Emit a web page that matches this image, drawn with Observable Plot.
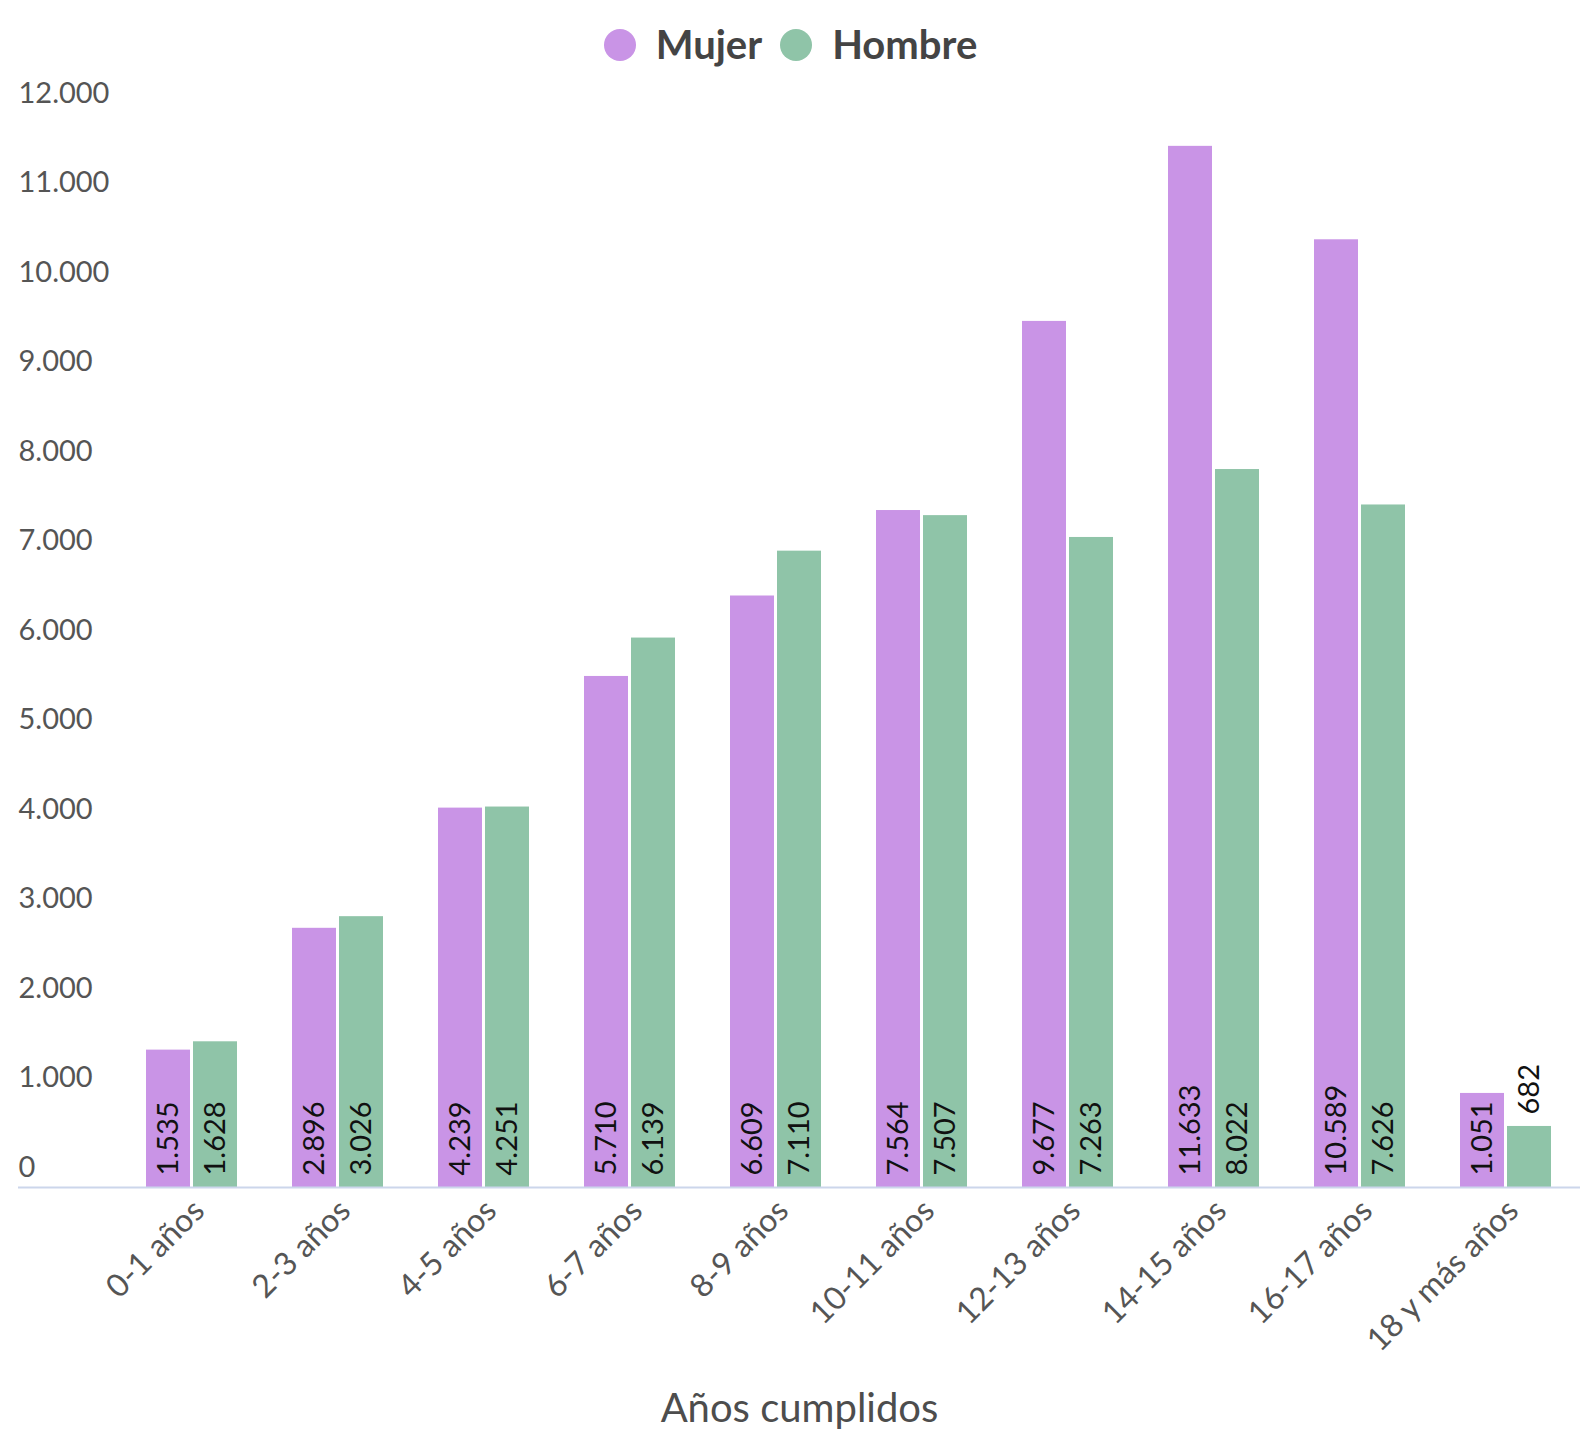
<!DOCTYPE html>
<html>
<head>
<meta charset="utf-8">
<script src="https://cdn.jsdelivr.net/npm/d3@7"></script>
<script src="https://cdn.jsdelivr.net/npm/@observablehq/plot@0.6"></script>
<style>
  html, body { margin: 0; padding: 0; background: #fff; }
  #wrap { position: relative; width: 1581px; height: 1431px; font-family: Lato, "Noto Sans", sans-serif; }
  #legend { position: absolute; left: 0; top: 0; width: 1581px; height: 90px; display: flex; justify-content: center; align-items: center; padding-left: 0px; box-sizing: border-box; }
  .item { display: flex; align-items: center; margin: 0 9px; }
  .dot { width: 32px; height: 32px; border-radius: 50%; margin-right: 20px; }
  .lab { font-weight: 700; font-size: 40px; color: #444; line-height: 1; position: relative; top: -1px; }
  #chart { position: absolute; left: 0; top: 70px; }
  #xtitle { position: absolute; left: 18px; width: 1563px; top: 1387px; text-align: center; font-size: 40px; line-height: 40px; color: #4d4d4d; }
</style>
</head>
<body>
<div id="wrap">
  <div id="legend"></div>
  <div id="chart"></div>
  <div id="xtitle">Años cumplidos</div>
</div>
<script>
const categorias = ["0-1 años", "2-3 años", "4-5 años", "6-7 años", "8-9 años", "10-11 años", "12-13 años", "14-15 años", "16-17 años", "18 y más años"];
const mujer = [1535, 2896, 4239, 5710, 6609, 7564, 9677, 11633, 10589, 1051];
const hombre = [1628, 3026, 4251, 6139, 7110, 7507, 7263, 8022, 7626, 682];
const series = ["Mujer", "Hombre"];
const colores = ["#c994e6", "#8fc4a8"];
const yTicks = [0, 1000, 2000, 3000, 4000, 5000, 6000, 7000, 8000, 9000, 10000, 11000, 12000];

const locale = d3.formatLocale({decimal: ",", thousands: ".", grouping: [3], currency: ["", " €"]});
const fmt = locale.format(",d");

const rows = (vals, s) => categorias.map((c, i) => ({cat: c, sexo: s, v: vals[i]}));
const dMujer = rows(mujer, "Mujer");
const dHombre = rows(hombre, "Hombre");

// legend
const legend = document.getElementById("legend");
series.forEach((s, i) => {
  const it = document.createElement("div");
  it.className = "item";
  it.innerHTML = `<span class="dot" style="background:${colores[i]}"></span><span class="lab">${s}</span>`;
  legend.appendChild(it);
});

const labelMarks = (d, dx) => [
  Plot.text(d.filter(r => r.v >= 1000), {x: "cat", y: 0, text: r => fmt(r.v), rotate: -90, textAnchor: "start", dx, dy: -12, fill: "#111", fontSize: 29}),
  Plot.text(d.filter(r => r.v < 1000), {x: "cat", y: "v", text: r => fmt(r.v), rotate: -90, textAnchor: "start", dx, dy: -12, fill: "#111", fontSize: 29})
];

const chart = Plot.plot({
  width: 1581,
  height: 1290,
  marginTop: 43,
  marginBottom: 173,
  marginLeft: 18,
  marginRight: 1,
  style: {fontFamily: "Lato, 'Noto Sans', sans-serif", color: "#555", background: "#fff", overflow: "visible"},
  x: {domain: categorias, range: [118.5, 1579], paddingInner: 0.377, paddingOuter: 0.19, label: null},
  y: {domain: [0, 12000], label: null},
  marks: [
    Plot.barY(dMujer, {x: "cat", y: "v", fill: colores[0], insetRight: 47}),
    Plot.barY(dHombre, {x: "cat", y: "v", fill: colores[1], insetLeft: 47}),
    ...labelMarks(dMujer, -23.5),
    ...labelMarks(dHombre, 23.5),
    Plot.ruleY([0], {stroke: "#ccd6eb", strokeWidth: 2}),
    Plot.axisY({ticks: yTicks, tickFormat: fmt, tickSize: 0, tickPadding: 0, textAnchor: "start", dy: -20, fontSize: 29, fill: "#555"}),
    Plot.axisX({tickSize: 0, tickPadding: 16, tickRotate: -45, fontSize: 32, fill: "#555", dx: 7, dy: 2})
  ]
});
document.getElementById("chart").appendChild(chart);
</script>
</body>
</html>
